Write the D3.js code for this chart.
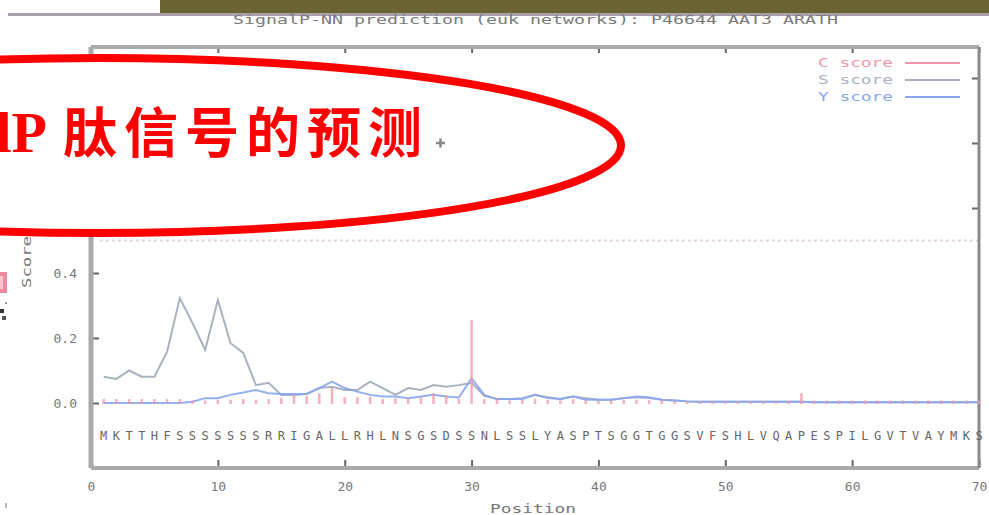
<!DOCTYPE html>
<html>
<head>
<meta charset="utf-8">
<script src="https://cdn.jsdelivr.net/npm/d3@7"></script>
<style>
  body { margin: 0; background: #fff; }
  svg { display: block; }
  .mono { font-family: "DejaVu Sans Mono", monospace; }
</style>
</head>
<body>
<div id="chart"></div>
<script>
// data
var sequence = ("MKTTHF" + "SSSSSSS" + "RR" + "IGALL" + "RHLN" + "SGSDSS" +
    "NLSSLYASPT" + "SGGTGGSVFS" + "HLVQAPESPI" + "LGVTVAYMKS").split("");

var cScore = [0.012, 0.012, 0.012, 0.012, 0.012, 0.012, 0.012, 0.008, 0.008, 0.010,
    0.010, 0.012, 0.010, 0.012, 0.015, 0.025, 0.022, 0.030, 0.046, 0.018,
    0.018, 0.020, 0.012, 0.015, 0.015, 0.018, 0.030, 0.025, 0.012, 0.255,
    0.012, 0.012, 0.008, 0.010, 0.012, 0.010, 0.008, 0.012, 0.008, 0.006,
    0.008, 0.010, 0.010, 0.008, 0.008, 0.006, 0.006, 0.005, 0.005, 0.005,
    0.005, 0.005, 0.005, 0.005, 0.006, 0.030, 0.008, 0.008, 0.008, 0.008,
    0.008, 0.008, 0.008, 0.008, 0.008, 0.008, 0.008, 0.008, 0.008, 0.008];

var sScore = [0.081, 0.074, 0.100, 0.081, 0.081, 0.158, 0.323, 0.246, 0.163, 0.317,
    0.184, 0.154, 0.055, 0.062, 0.025, 0.025, 0.028, 0.046, 0.050, 0.040,
    0.040, 0.066, 0.046, 0.025, 0.046, 0.040, 0.055, 0.050, 0.055, 0.062,
    0.022, 0.012, 0.012, 0.015, 0.025, 0.018, 0.012, 0.020, 0.015, 0.010,
    0.010, 0.015, 0.018, 0.015, 0.010, 0.008, 0.005, 0.004, 0.004, 0.004,
    0.004, 0.004, 0.004, 0.004, 0.004, 0.004, 0.002, 0.002, 0.002, 0.002,
    0.002, 0.002, 0.002, 0.002, 0.002, 0.002, 0.002, 0.002, 0.002, 0.002];

var yScore = [0.000, 0.000, 0.000, 0.000, 0.000, 0.000, 0.000, 0.004, 0.015, 0.015,
    0.025, 0.032, 0.040, 0.030, 0.028, 0.028, 0.028, 0.046, 0.066, 0.046,
    0.035, 0.025, 0.020, 0.020, 0.015, 0.020, 0.025, 0.020, 0.017, 0.076,
    0.025, 0.012, 0.012, 0.012, 0.025, 0.015, 0.012, 0.020, 0.010, 0.010,
    0.010, 0.015, 0.020, 0.018, 0.010, 0.008, 0.005, 0.004, 0.004, 0.004,
    0.004, 0.004, 0.004, 0.004, 0.004, 0.004, 0.002, 0.002, 0.002, 0.002,
    0.002, 0.002, 0.002, 0.002, 0.002, 0.002, 0.002, 0.002, 0.002, 0.002];

var xTicks = [0, 10, 20, 30, 40, 50, 60, 70];
var yTicks = [0, 0.2, 0.4];          // the higher labels sit under the red ellipse
var yTicksRight = [0.6, 0.8, 1.0];
var cutoff = 0.5;
var legendNames = ["C score", "S score", "Y score"];
var chartTitle = "SignalP-NN prediction (euk networks): P46644 AAT3 ARATH";
var noteLatin = "SignalP";
var noteCJK = "肽信号的预测";

var colC = "#f096a8", colS = "#aab2c2", colY = "#88a6ee";

var width = 989, height = 515;
var plot = { left: 91, right: 979, top: 47, bottom: 468 };

var svg = d3.select("#chart").append("svg")
    .attr("width", width)
    .attr("height", height);
svg.append("rect").attr("width", width).attr("height", height).attr("fill", "#fff");

// slide header band
svg.append("rect").attr("x", 160).attr("y", 0).attr("width", width - 160).attr("height", 13).attr("fill", "#696432");
svg.append("rect").attr("x", 8).attr("y", 13).attr("width", width - 8).attr("height", 3).attr("fill", "#ab9eab");

var x = d3.scaleLinear().domain([0, 70]).range([plot.left, plot.right]);
var y = d3.scaleLinear().domain([-0.2, 1.1]).range([plot.bottom, plot.bottom - 1.3 * 325]);

// title
svg.append("text").attr("class", "mono")
    .attr("x", 233).attr("y", 24)
    .attr("font-size", 12).attr("fill", "#7a7a7a")
    .attr("textLength", 605).attr("lengthAdjust", "spacingAndGlyphs")
    .text(chartTitle);

// cutoff line
svg.append("line")
    .attr("x1", x(0.7)).attr("x2", x(70))
    .attr("y1", y(cutoff)).attr("y2", y(cutoff))
    .attr("stroke", "#e6d4de").attr("stroke-width", 2).attr("stroke-dasharray", "3,3");

// axes
var gx = svg.append("g").attr("transform", "translate(0," + plot.bottom + ")")
    .call(d3.axisBottom(x).tickValues(xTicks).tickSize(-8).tickPadding(14).tickFormat(d3.format("d")));
var gxt = svg.append("g").attr("transform", "translate(0," + plot.top + ")")
    .call(d3.axisTop(x).tickValues(xTicks).tickSize(-6).tickFormat(""));
var gy = svg.append("g").attr("transform", "translate(" + plot.left + ",0)")
    .call(d3.axisLeft(y).tickValues(yTicks).tickSize(-8).tickPadding(14).tickFormat(d3.format(".1f")));
var gyr = svg.append("g").attr("transform", "translate(" + plot.right + ",0)")
    .call(d3.axisRight(y).tickValues(yTicksRight).tickSize(-7).tickFormat(""));

[gx, gxt, gy, gyr].forEach(function(g) {
    g.select(".domain").remove();
    g.selectAll(".tick line").attr("stroke", "#666").attr("stroke-width", 2);
    g.selectAll("text").attr("class", "mono").attr("font-size", 13).attr("fill", "#777");
});

// frame
svg.append("line").attr("x1", plot.left).attr("x2", plot.right).attr("y1", plot.top).attr("y2", plot.top)
    .attr("stroke", "#aaa").attr("stroke-width", 4);
svg.append("line").attr("x1", plot.left).attr("x2", plot.right).attr("y1", plot.bottom).attr("y2", plot.bottom)
    .attr("stroke", "#aaa").attr("stroke-width", 4);
svg.append("line").attr("x1", plot.left).attr("x2", plot.left).attr("y1", plot.top).attr("y2", plot.bottom)
    .attr("stroke", "#aaa").attr("stroke-width", 5);
svg.append("line").attr("x1", plot.right).attr("x2", plot.right).attr("y1", plot.top).attr("y2", plot.bottom)
    .attr("stroke", "#8a8a8a").attr("stroke-width", 3);

// sequence letters
svg.selectAll(".aa")
    .data(sequence)
    .enter()
    .append("text")
    .attr("class", "mono")
    .attr("x", function(d, i) { return x(i + 1); })
    .attr("y", 440)
    .attr("text-anchor", "middle")
    .attr("font-size", 12)
    .attr("fill", "#666")
    .text(function(d) { return d; });

// series
var line = d3.line()
    .x(function(d, i) { return x(i + 1); })
    .y(function(d) { return y(d); });

svg.append("path").datum(sScore)
    .attr("d", line).attr("fill", "none")
    .attr("stroke", colS).attr("stroke-width", 2);
svg.append("path").datum(yScore)
    .attr("d", line).attr("fill", "none")
    .attr("stroke", colY).attr("stroke-width", 2).attr("opacity", 0.9);
svg.selectAll(".cbar")
    .data(cScore)
    .enter()
    .append("line")
    .attr("x1", function(d, i) { return x(i + 1); })
    .attr("x2", function(d, i) { return x(i + 1); })
    .attr("y1", y(0) + 1)
    .attr("y2", function(d) { return y(d); })
    .attr("stroke", colC).attr("stroke-width", 2.5).attr("opacity", 0.75);

// legend
var legendColors = [colC, colS, colY];
var legend = svg.selectAll(".lg")
    .data(legendNames)
    .enter()
    .append("g")
    .attr("transform", function(d, i) { return "translate(0," + (63 + i * 17) + ")"; });
legend.append("text").attr("class", "mono")
    .attr("x", 818).attr("y", 4)
    .attr("font-size", 12)
    .attr("textLength", 75).attr("lengthAdjust", "spacingAndGlyphs")
    .attr("fill", function(d, i) { return legendColors[i]; })
    .text(function(d) { return d; });
legend.append("line")
    .attr("x1", 905).attr("x2", 960)
    .attr("stroke", function(d, i) { return legendColors[i]; })
    .attr("stroke-width", 2);

// axis titles
svg.append("text").attr("class", "mono")
    .attr("x", 533).attr("y", 513).attr("text-anchor", "middle")
    .attr("font-size", 12).attr("fill", "#777")
    .attr("textLength", 86).attr("lengthAdjust", "spacingAndGlyphs")
    .text("Position");
svg.append("text").attr("class", "mono")
    .attr("transform", "translate(31,288) rotate(-90)")
    .attr("font-size", 12).attr("fill", "#777")
    .attr("textLength", 52).attr("lengthAdjust", "spacingAndGlyphs")
    .text("Score");

// bits of the slide at the left edge
svg.append("rect").attr("x", 0).attr("y", 272).attr("width", 7).attr("height", 21).attr("fill", "#ee8aa0");
svg.append("rect").attr("x", 0).attr("y", 276).attr("width", 3).attr("height", 13).attr("fill", "#f8c8d2");
svg.append("rect").attr("x", 0).attr("y", 309).attr("width", 4).attr("height", 4).attr("fill", "#333");
svg.append("rect").attr("x", 2).attr("y", 316).attr("width", 4).attr("height", 4).attr("fill", "#555");
svg.append("rect").attr("x", 5).attr("y", 302).attr("width", 2).attr("height", 2).attr("fill", "#999");
svg.append("rect").attr("x", 5).attr("y", 503).attr("width", 2).attr("height", 5).attr("fill", "#bbb");

// red annotation ellipse
svg.append("ellipse")
    .attr("cx", 100).attr("cy", 145.5)
    .attr("rx", 521).attr("ry", 87.5)
    .attr("fill", "#fff")
    .attr("stroke", "#ff0000").attr("stroke-width", 8);

svg.append("text")
    .attr("x", 47).attr("y", 152)
    .attr("text-anchor", "end")
    .attr("font-family", "Liberation Serif, serif")
    .attr("font-weight", "bold")
    .attr("font-size", 58)
    .attr("fill", "#ff0000")
    .text(noteLatin);
svg.append("text")
    .attr("x", 63).attr("y", 153)
    .attr("font-family", "Noto Sans CJK SC, sans-serif")
    .attr("font-weight", "bold")
    .attr("font-size", 54)
    .attr("letter-spacing", 7)
    .attr("fill", "#ff0000")
    .text(noteCJK);

// small cursor cross
svg.append("path")
    .attr("d", "M436,143h9M440.5,138.5v9")
    .attr("stroke", "#888").attr("stroke-width", 2.5);
</script>
</body>
</html>
